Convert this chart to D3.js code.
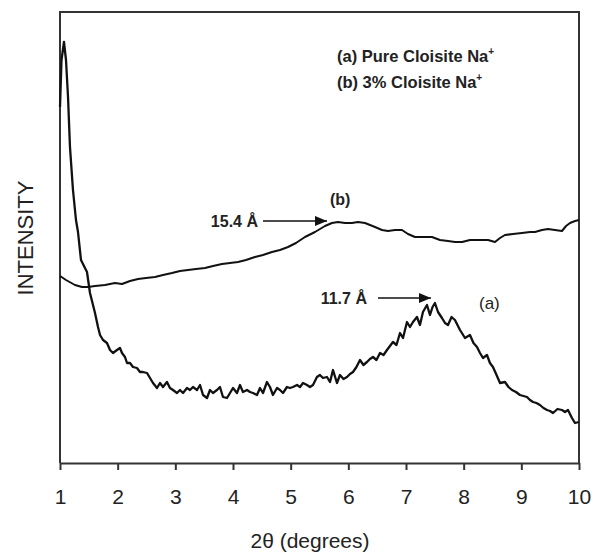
<!DOCTYPE html>
<html>
<head>
<meta charset="utf-8">
<script src="https://cdn.jsdelivr.net/npm/d3@7"></script>
<style>
body { margin: 0; background: #fff; }
</style>
</head>
<body>
<script>
var w = 595;
var h = 552;
var margin = {top: 12, right: 16, bottom: 89, left: 60};

// x ticks (2theta, degrees)
var xTicks = [1, 2, 3, 4, 5, 6, 7, 8, 9, 10];

// (a) pure Cloisite Na+  -- 2theta / intensity (arb. units)
var aX = [1.000, 1.026, 1.069, 1.104, 1.139, 1.173, 1.225, 1.277, 1.312, 1.364, 1.416, 1.468, 1.520, 1.607, 1.659,
  1.694, 1.746, 1.815, 1.867, 1.919, 1.988, 2.040, 2.075, 2.127, 2.162, 2.214, 2.266, 2.335, 2.387, 2.439,
  2.509, 2.561, 2.613, 2.682, 2.734, 2.786, 2.855, 2.907, 2.959, 3.029, 3.081, 3.133, 3.202, 3.254, 3.306,
  3.376, 3.428, 3.480, 3.549, 3.601, 3.653, 3.722, 3.774, 3.826, 3.896, 3.948, 4.000, 4.069, 4.121, 4.173,
  4.243, 4.295, 4.347, 4.416, 4.468, 4.520, 4.589, 4.641, 4.693, 4.763, 4.815, 4.867, 4.936, 4.988, 5.040,
  5.110, 5.162, 5.214, 5.283, 5.335, 5.387, 5.456, 5.508, 5.560, 5.630, 5.682, 5.734, 5.803, 5.855, 5.916,
  5.977, 6.029, 6.081, 6.141, 6.202, 6.262, 6.323, 6.375, 6.427, 6.488, 6.549, 6.610, 6.670, 6.722, 6.774,
  6.835, 6.896, 6.948, 7.017, 7.069, 7.121, 7.190, 7.242, 7.294, 7.364, 7.416, 7.460, 7.502, 7.555, 7.624,
  7.676, 7.728, 7.790, 7.849, 7.936, 7.980, 8.023, 8.109, 8.170, 8.231, 8.283, 8.335, 8.404, 8.456, 8.508,
  8.570, 8.630, 8.716, 8.777, 8.838, 8.907, 8.976, 9.037, 9.098, 9.150, 9.202, 9.262, 9.323, 9.384, 9.445,
  9.497, 9.549, 9.627, 9.705, 9.757, 9.809, 9.878, 9.930, 10.000];
var aY = [356, 403, 421, 403, 366, 316, 273, 243, 231, 203, 197, 191, 170, 150, 136,
  128, 123, 120, 113, 110, 113, 115, 110, 106, 100, 100, 96, 95, 91, 91,
  90, 85, 80, 75, 80, 76, 81, 75, 73, 70, 73, 70, 75, 73, 76,
  73, 78, 68, 65, 73, 70, 73, 76, 66, 65, 70, 75, 70, 78, 71,
  73, 71, 70, 68, 75, 70, 81, 76, 68, 75, 73, 70, 76, 75, 76,
  78, 76, 80, 78, 76, 78, 86, 88, 85, 86, 81, 93, 80, 88, 84,
  86, 89, 91, 96, 103, 98, 101, 104, 106, 103, 110, 108, 113, 117, 121,
  118, 130, 125, 141, 136, 141, 146, 138, 151, 158, 148, 156, 160, 151, 145,
  140, 138, 146, 143, 133, 129, 125, 128, 120, 116, 110, 105, 108, 100, 96,
  88, 80, 81, 76, 73, 71, 68, 67, 66, 63, 61, 60, 58, 55, 53,
  52, 50, 54, 53, 51, 53, 45, 40, 41];

// (b) 3% Cloisite Na+
var bX = [1.000, 1.104, 1.260, 1.381, 1.486, 1.607, 1.780, 1.954, 2.075, 2.214, 2.353, 2.491, 2.647, 2.786, 2.942,
  3.081, 3.220, 3.358, 3.514, 3.653, 3.809, 3.948, 4.087, 4.225, 4.381, 4.520, 4.676, 4.815, 4.954, 5.092,
  5.248, 5.422, 5.595, 5.716, 5.820, 5.942, 6.063, 6.167, 6.289, 6.376, 6.462, 6.584, 6.688, 6.809, 6.930,
  7.034, 7.156, 7.277, 7.450, 7.589, 7.728, 7.849, 7.971, 8.110, 8.248, 8.422, 8.543, 8.630, 8.716, 8.855,
  9.011, 9.150, 9.237, 9.358, 9.462, 9.584, 9.705, 9.775, 9.844, 9.931, 10.000];
var bY = [187, 183, 178, 176, 176, 177, 178, 180, 179, 182, 184, 185, 186, 188, 190,
  192, 193, 194, 195, 197, 199, 200, 201, 203, 206, 208, 211, 213, 216, 220,
  226, 231, 237, 240, 241, 240, 240, 241, 240, 238, 236, 233, 232, 233, 233,
  229, 226, 226, 226, 223, 222, 221, 221, 223, 223, 223, 221, 225, 228, 229,
  230, 231, 231, 233, 234, 233, 232, 237, 240, 242, 243];

var svg = d3.select("body")
    .append("svg")
    .attr("width", w)
    .attr("height", h);

var x = d3.scaleLinear().domain([1, 10]).range([margin.left, w - margin.right]);
var y = d3.scaleLinear().domain([0, 451]).range([h - margin.bottom, margin.top]);

var axisColor = "#333";
var textColor = "#222";

// frame: left + top + right
svg.append("path")
    .attr("d", "M" + x(1) + "," + y(0) + "V" + y(451) + "H" + x(10) + "V" + y(0))
    .attr("fill", "none")
    .attr("stroke", axisColor)
    .attr("stroke-width", 2);

var xAxis = svg.append("g")
    .attr("transform", "translate(0," + y(0) + ")")
    .call(d3.axisBottom(x).tickValues(xTicks).tickFormat(d3.format("d"))
        .tickSizeInner(7).tickSizeOuter(0).tickPadding(19));
xAxis.select(".domain").attr("stroke", axisColor).attr("stroke-width", 2);
xAxis.selectAll(".tick line").attr("stroke", axisColor).attr("stroke-width", 2);
xAxis.selectAll("text")
    .attr("fill", textColor)
    .attr("font-family", "Liberation Sans, Arial, sans-serif")
    .attr("font-size", 21);

svg.append("text")
    .attr("x", 310)
    .attr("y", 548)
    .attr("text-anchor", "middle")
    .attr("font-family", "Liberation Sans, Arial, sans-serif")
    .attr("font-size", 21)
    .attr("fill", textColor)
    .text("2θ (degrees)");

svg.append("text")
    .attr("transform", "translate(33,238) rotate(-90)")
    .attr("text-anchor", "middle")
    .attr("font-family", "Liberation Sans, Arial, sans-serif")
    .attr("font-size", 22)
    .attr("fill", textColor)
    .text("INTENSITY");

var line = d3.line()
    .x(function(d){ return x(d[0]); })
    .y(function(d){ return y(d[1]); });

var seriesA = aX.map(function(v, i){ return [v, aY[i]]; });
var seriesB = bX.map(function(v, i){ return [v, bY[i]]; });

[[seriesB, 2], [seriesA, 2.3]].forEach(function(s){
    svg.append("path")
        .datum(s[0])
        .attr("d", line)
        .attr("fill", "none")
        .attr("stroke", "#111")
        .attr("stroke-width", s[1])
        .attr("stroke-linejoin", "round");
});

// legend text
var legend = [["(a) Pure Cloisite Na", 401], ["(b) 3% Cloisite Na", 375]];
legend.forEach(function(l){
    var t = svg.append("text")
        .attr("x", x(5.803))
        .attr("y", y(l[1]))
        .attr("font-family", "Liberation Sans, Arial, sans-serif")
        .attr("font-weight", "bold")
        .attr("font-size", 16.5)
        .attr("fill", textColor)
        .text(l[0]);
    t.append("tspan")
        .attr("dy", -7)
        .attr("font-size", 10)
        .text("+");
});

// annotations
var labels = [
    {text: "15.4 Å", x: 4.433, y: 236, anchor: "end", weight: "bold", size: 16},
    {text: "11.7 Å", x: 6.323, y: 159, anchor: "end", weight: "bold", size: 16},
    {text: "(b)", x: 5.682, y: 258, anchor: "start", weight: "bold", size: 16},
    {text: "(a)", x: 8.266, y: 154, anchor: "start", weight: "normal", size: 17}
];
svg.selectAll("text.ann")
    .data(labels)
    .enter()
    .append("text")
    .attr("class", "ann")
    .attr("x", function(d){ return x(d.x); })
    .attr("y", function(d){ return y(d.y); })
    .attr("text-anchor", function(d){ return d.anchor; })
    .attr("font-family", "Liberation Sans, Arial, sans-serif")
    .attr("font-weight", function(d){ return d.weight; })
    .attr("font-size", function(d){ return d.size; })
    .attr("fill", textColor)
    .text(function(d){ return d.text; });

svg.append("defs").append("marker")
    .attr("id", "arrow")
    .attr("viewBox", "0 0 12 10")
    .attr("refX", 12)
    .attr("refY", 5)
    .attr("markerWidth", 12)
    .attr("markerHeight", 10)
    .attr("markerUnits", "userSpaceOnUse")
    .attr("orient", "auto")
    .append("path")
    .attr("d", "M0,0L12,5L0,10Z")
    .attr("fill", "#111");

var arrows = [[4.52, 5.63, 242], [6.514, 7.433, 165]];
svg.selectAll("line.arrow")
    .data(arrows)
    .enter()
    .append("line")
    .attr("class", "arrow")
    .attr("x1", function(d){ return x(d[0]); })
    .attr("x2", function(d){ return x(d[1]); })
    .attr("y1", function(d){ return y(d[2]); })
    .attr("y2", function(d){ return y(d[2]); })
    .attr("stroke", "#111")
    .attr("stroke-width", 1.5)
    .attr("marker-end", "url(#arrow)");
</script>
</body>
</html>
